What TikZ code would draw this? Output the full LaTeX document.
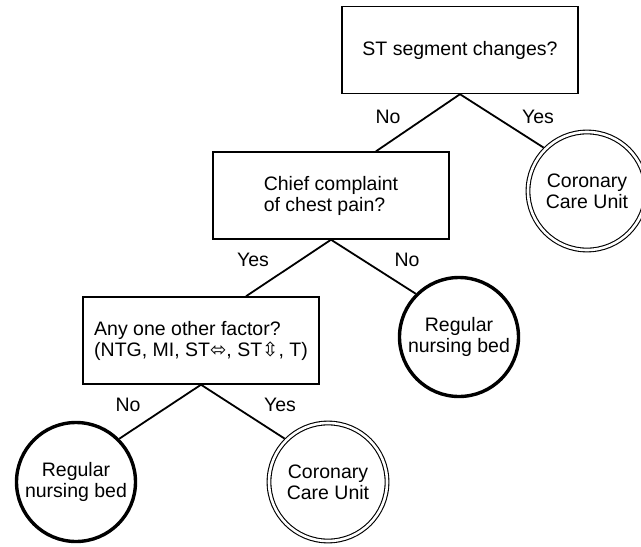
\documentclass[tikz,border=0pt]{standalone}
\usepackage{fontspec}
\setmainfont{Liberation Sans}
\newfontfamily\symfont{DejaVu Sans}
\begin{document}
\begin{tikzpicture}[x=1pt,y=-1pt,
  every node/.style={font=\fontsize{19.5}{21}\selectfont},
  qbox/.style={draw, line width=1.4pt, rectangle, minimum width=236pt, minimum height=87pt, align=left, inner sep=0pt},
  ccu/.style={draw, circle, line width=1.1pt, double, double distance=2.6pt, minimum size=118pt, align=center, inner sep=0pt, outer sep=2.4pt},
  rnb/.style={draw, circle, line width=3.4pt, minimum size=119pt, align=center, inner sep=0pt},
  conn/.style={line width=1.8pt},
  lab/.style={inner sep=0pt}]
\useasboundingbox (0,0) rectangle (641,547);
\node[qbox] (b1) at (460,50) {ST segment changes?};
\node[qbox] (b2) at (331,195.5) {Chief complaint\\of chest pain?};
\node[qbox] (b3) at (201,340.5) {Any one other factor?\\(NTG, MI, ST{\symfont\char"2B04}, ST{\symfont\char"21F3}, T)};
\node[ccu] (c1) at (587,191) {Coronary\\Care Unit};
\node[rnb] (c2) at (459,337) {Regular\\nursing bed};
\node[rnb] (c3) at (76,482) {Regular\\nursing bed};
\node[ccu] (c4) at (328,482) {Coronary\\Care Unit};
\draw[conn] (b1.south) -- ([xshift=45pt]b2.north);
\draw[conn] (b1.south) -- (c1.north west);
\draw[conn] (b2.south) -- ([xshift=45pt]b3.north);
\draw[conn] (b2.south) -- (c2.north west);
\draw[conn] (b3.south) -- (c3.north east);
\draw[conn] (b3.south) -- (c4.north west);
\node[lab] (l1) at (388,117) {No};
\node[lab] (l2) at (538,117) {Yes};
\node[lab] (l3) at (253,260) {Yes};
\node[lab] (l4) at (407,260) {No};
\node[lab] (l5) at (128,405) {No};
\node[lab] (l6) at (280,405) {Yes};
\end{tikzpicture}
\end{document}
